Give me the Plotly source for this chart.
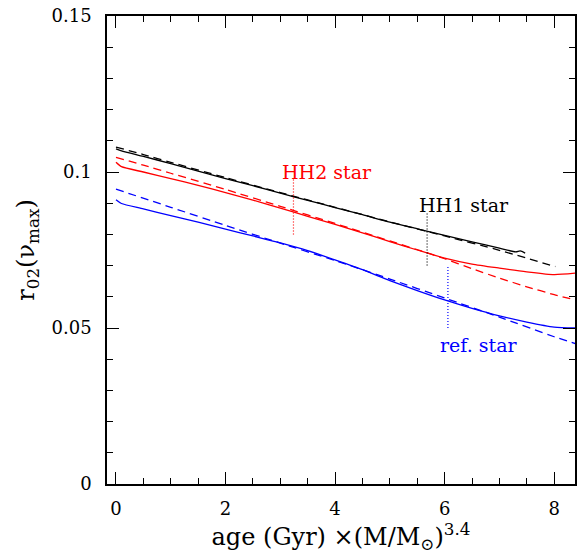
import plotly.graph_objects as go

# ---- data ----
bs_x = [0, 0.1, 0.5, 1, 1.5, 2, 2.5, 3, 3.5, 4, 4.5, 5, 5.5, 6, 6.5, 7, 7.3, 7.38, 7.47]
bs_y = [0.1074, 0.1068, 0.1050, 0.1027, 0.1003, 0.0979, 0.0956, 0.0932, 0.0909, 0.0886,
        0.0863, 0.0839, 0.0818, 0.0797, 0.0776, 0.0756, 0.0744, 0.0747, 0.0740]
bd_x = [0, 0.5, 1, 2, 3, 4, 5, 6, 7, 8.02]
bd_y = [0.1080, 0.1056, 0.1031, 0.0982, 0.0934, 0.0887, 0.0840, 0.0795, 0.0749, 0.0697]

rs_x = [0, 0.1, 0.5, 1, 1.5, 2, 2.5, 3, 3.5, 4, 4.5, 5, 5.5, 6, 6.5, 7, 7.5, 8, 8.4]
rs_y = [0.1031, 0.1017, 0.1000, 0.0979, 0.0957, 0.0934, 0.0910, 0.0884, 0.0858, 0.0832,
        0.0805, 0.0777, 0.0750, 0.0724, 0.0705, 0.0692, 0.0680, 0.0671, 0.0676]
rd_x = [0, 0.5, 1, 2, 3, 4, 5, 5.7, 6, 6.5, 7, 7.5, 8, 8.4]
rd_y = [0.1047, 0.1022, 0.0996, 0.0944, 0.0890, 0.0835, 0.0779, 0.0740, 0.0722, 0.0690,
        0.0660, 0.0632, 0.0607, 0.0589]

us_x = [0, 0.1, 0.5, 1, 1.5, 2, 2.5, 3, 3.5, 4, 4.5, 5, 5.5, 6, 6.5, 7, 7.5, 8, 8.4]
us_y = [0.0911, 0.0899, 0.0882, 0.0860, 0.0839, 0.0817, 0.0795, 0.0773, 0.0748, 0.0718,
        0.0687, 0.0652, 0.0620, 0.0590, 0.0563, 0.0539, 0.0519, 0.0503, 0.0500]
ud_x = [0, 1, 2, 3, 4, 5, 6, 7, 8, 8.4]
ud_y = [0.0945, 0.0887, 0.0829, 0.0772, 0.0716, 0.0657, 0.0596, 0.0535, 0.0472, 0.0449]

markers = [  # label, x, y_low, y_high, color, label_x, label_y
    ("HH2 star", 3.24, 0.080, 0.098, "#ff0000", 3.86, 0.0999),
    ("HH1 star", 5.68, 0.070, 0.087, "#000000", 6.35, 0.0895),
    ("ref. star", 6.06, 0.050, 0.0700, "#0000ff", 6.61, 0.0447),
]

X_RANGE = [-0.164, 8.38]
Y_RANGE = [0, 0.15]

FONT = "DejaVu Serif"
fig = go.Figure()

def add(x, y, color, dash):
    fig.add_trace(go.Scatter(x=x, y=y, mode="lines", showlegend=False,
                             line=dict(color=color, width=1.3, dash=dash, shape="spline", smoothing=0.6)))

add(bs_x, bs_y, "#000000", "solid")
add(bd_x, bd_y, "#000000", "8px,5px")
add(rs_x, rs_y, "#ff0000", "solid")
add(rd_x, rd_y, "#ff0000", "8px,5px")
add(us_x, us_y, "#0000ff", "solid")
add(ud_x, ud_y, "#0000ff", "8px,5px")

for lab, mx, y0, y1, col, lx, ly in markers:
    fig.add_trace(go.Scatter(x=[mx, mx], y=[y0, y1], mode="lines", showlegend=False,
                             line=dict(color=col, width=1.2, dash="1px,2px")))
    fig.add_annotation(x=lx, y=ly, text=lab, showarrow=False, xanchor="center", yanchor="middle",
                       font=dict(family=FONT, size=19, color=col))

# invisible trace to activate mirror axes
fig.add_trace(go.Scatter(x=[None], y=[None], xaxis="x2", yaxis="y2", showlegend=False, hoverinfo="skip"))

axis_common = dict(showline=True, linecolor="black", linewidth=1.5,
                   ticks="inside", tickcolor="black", tickwidth=1.2, showgrid=False, zeroline=False,
                   tickfont=dict(family=FONT, size=18, color="black"))

fig.update_layout(
    xaxis=dict(range=X_RANGE, tick0=0, dtick=2, ticklen=12, mirror=True,
               minor=dict(dtick=0.5, ticklen=6, ticks="inside", tickcolor="black", tickwidth=1.2),
               title=dict(text="age (Gyr) ×(M/M<sub>⊙</sub>)<sup>3.4</sup>",
                          font=dict(family=FONT, size=24, color="black"), standoff=8),
               ticklabelstandoff=8, **axis_common),
    yaxis=dict(range=Y_RANGE, tick0=0, dtick=0.05, ticklen=12, mirror=True,
               minor=dict(dtick=0.01, ticklen=6, ticks="inside", tickcolor="black", tickwidth=1.2),
               title=dict(text="r<sub>02</sub>(ν<sub>max</sub>)",
                          font=dict(family=FONT, size=24, color="black"), standoff=10),
               ticklabelstandoff=10, **axis_common),
    xaxis2=dict(range=X_RANGE, overlaying="x", side="top", anchor="y", tick0=0, dtick=2, ticklen=12,
                showticklabels=False, ticks="inside", tickcolor="black", tickwidth=1.2,
                showgrid=False, zeroline=False, showline=False,
                minor=dict(dtick=0.5, ticklen=6, ticks="inside", tickcolor="black", tickwidth=1.2)),
    yaxis2=dict(range=Y_RANGE, overlaying="y", side="right", anchor="x", tick0=0, dtick=0.05, ticklen=12,
                showticklabels=False, ticks="inside", tickcolor="black", tickwidth=1.2,
                showgrid=False, zeroline=False, showline=False,
                minor=dict(dtick=0.01, ticklen=6, ticks="inside", tickcolor="black", tickwidth=1.2)),
    width=582, height=556, margin=dict(l=107, r=5, t=14, b=72),
    plot_bgcolor="white", paper_bgcolor="white")
fig.write_html("out.html")
